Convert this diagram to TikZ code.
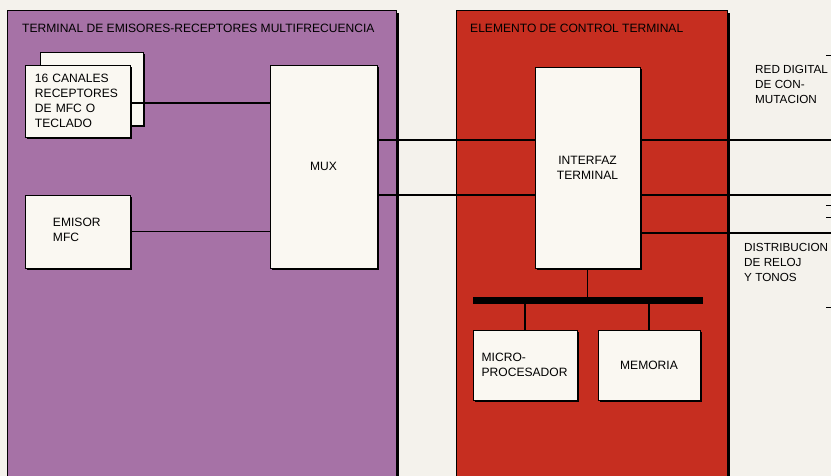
\documentclass[tikz,border=0pt]{standalone}
\usepackage{fontspec}
\setmainfont{Liberation Sans}
\usepackage{tikz}
\usetikzlibrary{
  positioning,
  shadows,
  calc
}
\definecolor{papercolor}{RGB}{244, 242, 236}
\definecolor{terminalcolor}{RGB}{166, 114, 166}
\definecolor{controlcolor}{RGB}{198, 46, 32}
\definecolor{boxcolor}{RGB}{250, 248, 242}
\tikzset{
blocktext/.style={
  font=\fontsize{10.3}{12.8}\selectfont,
  text=black
},
panel/.style={
  draw=black,
  line width=0.9pt,
  anchor=north west,
  minimum height=15cm,
  inner sep=0pt,
  drop shadow={shadow xshift=2.2pt, shadow yshift=-2.2pt, fill=black, opacity=1}
},
box/.style={
  draw=black,
  line width=0.8pt,
  fill=boxcolor,
  blocktext,
  drop shadow={shadow xshift=2pt, shadow yshift=-2pt, fill=black, opacity=1}
},
paneltitle/.style={
  blocktext,
  anchor=west,
  inner sep=0pt
},
sidelabel/.style={
  font=\fontsize{10}{12.8}\selectfont,
  text=black,
  align=left,
  anchor=north west,
  inner sep=0pt
},
wire/.style={
  draw=black,
  line width=1pt
}
}

\begin{document}
\begin{tikzpicture}[x=0.03cm, y=-0.03cm]

% fondo
\fill[papercolor] (0,0) rectangle (831,476);
\clip (0,0) rectangle (831,476);

% ============================================================================
% Paneles
% ============================================================================
\node[panel, fill=terminalcolor, minimum width=11.67cm] (termpanel) at (7,10) {};
\node[panel, fill=controlcolor, minimum width=8.13cm] (ctrlpanel) at (456,10) {};

\node[paneltitle] (termtitle) at (22,28) {TERMINAL DE EMISORES-RECEPTORES MULTIFRECUENCIA};
\node[paneltitle] (ctrltitle) at (470,28) {ELEMENTO DE CONTROL TERMINAL};

% ============================================================================
% Terminal de emisores-receptores
% ============================================================================
\node[box, minimum width=3.09cm, minimum height=2.19cm] (canback) at (91.5,88.5) {};
\node[box, minimum width=3.15cm, minimum height=2.16cm, text width=2.55cm,
      inner xsep=0.3cm, align=left] (canales) at (77.5,101) {16 CANALES\\RECEPTORES\\DE MFC O\\TECLADO};

\node[box, minimum width=3.15cm, minimum height=2.19cm, text width=1.47cm,
      inner xsep=0.84cm, align=left] (emisor) at (77.5,231.5) {EMISOR\\MFC\vphantom{g}};

\node[box, minimum width=3.21cm, minimum height=6.09cm] (mux) at (323.5,166.5) {MUX};

% ============================================================================
% Elemento de control
% ============================================================================
\node[box, minimum width=3.15cm, minimum height=6.03cm, align=center] (interfaz) at (587.5,167.5) {INTERFAZ\\TERMINAL};

\node[fill=black, minimum width=6.9cm, minimum height=0.2cm, inner sep=0pt] (bus) at (588,300.5) {};

\node[box, minimum width=3.12cm, minimum height=2.1cm, text width=2.6cm,
      inner xsep=0.26cm, align=left] (micro) at (525,365) {MICRO-\\PROCESADOR};
\node[box, minimum width=3.06cm, minimum height=2.1cm] (memoria) at (649,365) {MEMORIA};

% ============================================================================
% Salidas
% ============================================================================
\coordinate (outa) at (831,140);
\coordinate (outb) at (831,195);
\coordinate (outc) at (831,233);

\node[sidelabel] (redlabel) at (755,65) {RED DIGITAL\\DE CON-\\MUTACION};
\node[sidelabel] (distlabel) at (744,243) {DISTRIBUCION\\DE RELOJ\\Y TONOS};

% ============================================================================
% Conexiones
% ============================================================================
\draw[wire] (canales.east |- 0,103) -- (mux.west |- 0,103);
\draw[wire] (emisor.east) -- (mux.west |- emisor.east);

\draw[wire] (mux.east |- outa) -- (interfaz.west |- outa);
\draw[wire] (mux.east |- outb) -- (interfaz.west |- outb);
\draw[wire] (interfaz.east |- outa) -- (outa);
\draw[wire] (interfaz.east |- outb) -- (outb);
\draw[wire] (interfaz.east |- outc) -- (outc);

\draw[wire] (interfaz.south) -- (bus.north -| interfaz.south);
\draw[wire] (bus.south -| micro.north) -- (micro.north);
\draw[wire] (bus.south -| memoria.north) -- (memoria.north);

% marcas del borde
\foreach \ty in {55,205,217,307}
  \draw[line width=0.6pt] (826,\ty) -- (831,\ty);

\end{tikzpicture}
\end{document}
